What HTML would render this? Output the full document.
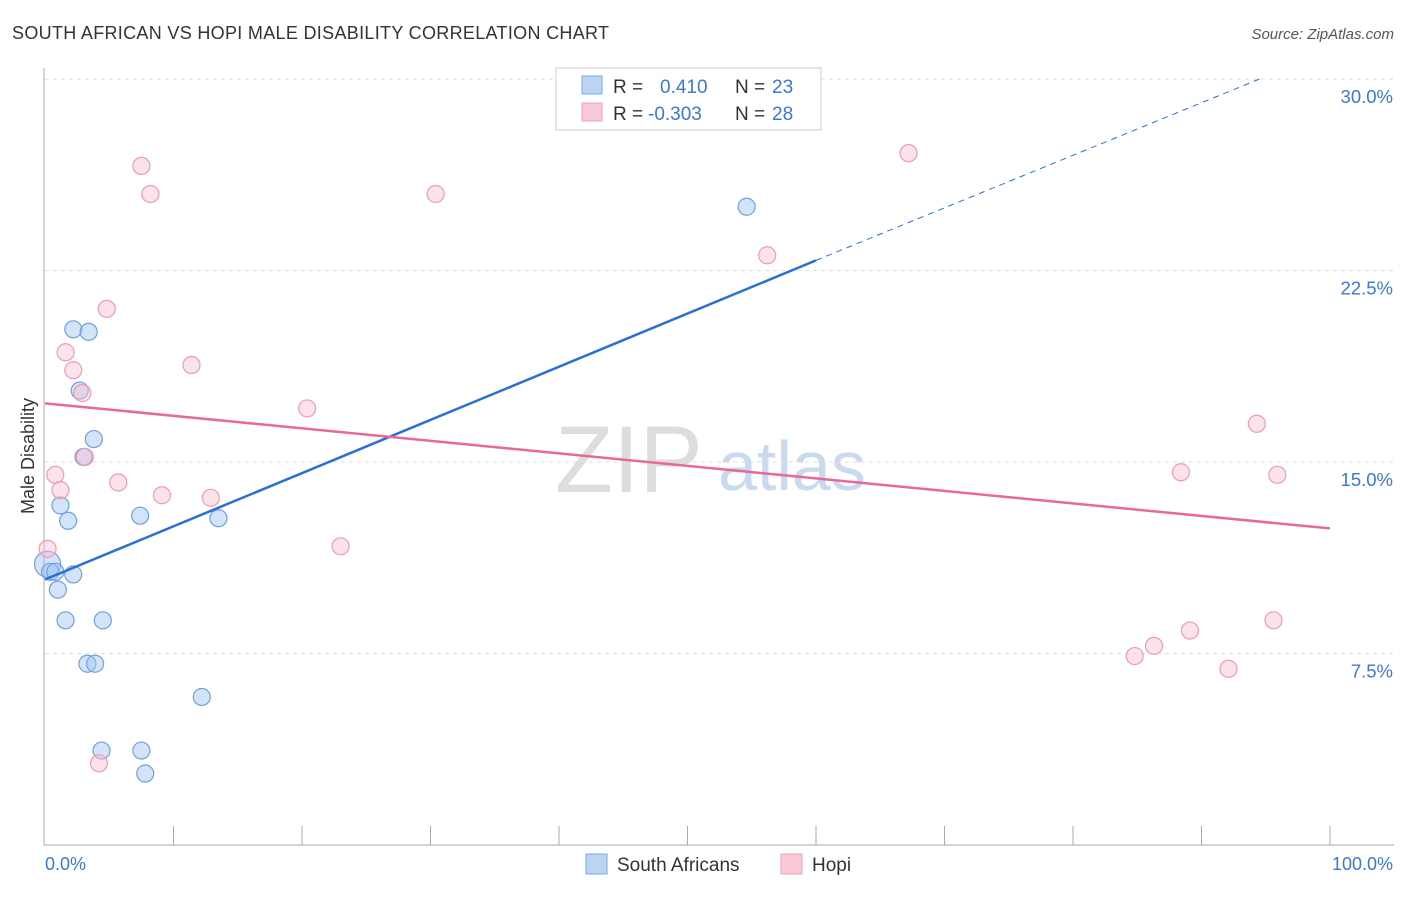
<!DOCTYPE html>
<html><head><meta charset="utf-8"><style>
body{margin:0;background:#fff;font-family:"Liberation Sans",sans-serif;}
svg text{font-family:"Liberation Sans",sans-serif;}
</style></head><body>
<svg id="chart" width="1406" height="892" xmlns="http://www.w3.org/2000/svg">
<text x="12" y="39" font-size="18" fill="#333" textLength="597">SOUTH AFRICAN VS HOPI MALE DISABILITY CORRELATION CHART</text>
<text x="1394" y="39" font-size="15" font-style="italic" fill="#555" text-anchor="end">Source: ZipAtlas.com</text>
<text x="555" y="492" font-size="95" font-family="Liberation Serif" fill="#ddd">ZIP</text>
<text x="718" y="490" font-size="70" fill="#c9d9ee">atlas</text>
<g id="grid"></g>
<line x1="44" y1="68" x2="44" y2="845" stroke="#aaa"/>
<line x1="44" y1="845" x2="1394" y2="845" stroke="#aaa"/>
<g id="xticks"></g>
<g id="ylabels"></g>
<text x="45" y="870" font-size="18" fill="#3a78d4">0.0%</text>
<text x="1393" y="870" font-size="18" fill="#3a78d4" text-anchor="end">100.0%</text>
<text transform="translate(34,456) rotate(-90)" font-size="18" fill="#333" text-anchor="middle">Male Disability</text>
<g id="points"></g>
<g id="trends"></g>
<g>
<rect x="556" y="68" width="265" height="62" fill="#fff" stroke="#ccc"/>
<rect x="582" y="76" width="20" height="18" fill="#bcd4f4" stroke="#7fa8e0"/>
<rect x="582" y="103" width="20" height="18" fill="#f9c9d6" stroke="#eea0b6"/>
<text x="613" y="93" font-size="19" fill="#333">R = </text><text x="660" y="93" font-size="19" fill="#3a78d4">0.410</text>
<text x="735" y="93" font-size="19" fill="#333">N = </text><text x="772" y="93" font-size="19" fill="#3a78d4">23</text>
<text x="613" y="120" font-size="19" fill="#333">R = </text><text x="648" y="120" font-size="19" fill="#3a78d4">-0.303</text>
<text x="735" y="120" font-size="19" fill="#333">N = </text><text x="772" y="120" font-size="19" fill="#3a78d4">28</text>
</g>
<g><rect x="586" y="854" width="21" height="20" fill="#bcd4f4" stroke="#7fa8e0"/><text x="617" y="871" font-size="19" fill="#333">South Africans</text></g>
<g><rect x="781" y="854" width="21" height="20" fill="#f9c9d6" stroke="#eea0b6"/><text x="812" y="871" font-size="19" fill="#333">Hopi</text></g>
</svg>
<script>
const yTicks=[7.5,15,22.5,30];
const blueX=[0.2,0.4,0.8,2.2,3.4,2.7,3.8,3.0,1.2,1.8,7.4,13.5,2.2,1.0,1.6,4.5,3.3,3.9,12.2,4.4,7.5,7.8,54.6];
const blueY=[11.0,10.7,10.7,20.2,20.1,17.8,15.9,15.2,13.3,12.7,12.9,12.8,10.6,10.0,8.8,8.8,7.1,7.1,5.8,3.7,3.7,2.8,25.0];
const pinkX=[7.5,8.2,30.4,67.2,56.2,4.8,1.6,2.2,2.9,11.4,20.4,3.1,0.8,1.2,5.7,9.1,12.9,23.0,0.2,94.3,88.4,95.9,95.6,89.1,86.3,84.8,92.1,4.2];
const pinkY=[26.6,25.5,25.5,27.1,23.1,21.0,19.3,18.6,17.7,18.8,17.1,15.2,14.5,13.9,14.2,13.7,13.6,11.7,11.6,16.5,14.6,14.5,8.8,8.4,7.8,7.4,6.9,3.2];
const blueTrend=[0,10.4,60,22.9,94.5,30];
const pinkTrend=[0,17.3,100,12.4];
const X=v=>45+v*12.85, Y=v=>845-v*25.53;
const NS="http://www.w3.org/2000/svg";
function mk(tag,attrs,parent){const e=document.createElementNS(NS,tag);for(const k in attrs)e.setAttribute(k,attrs[k]);parent.appendChild(e);return e;}
const grid=document.getElementById('grid'),yl=document.getElementById('ylabels'),xt=document.getElementById('xticks');
yTicks.forEach(t=>{
 const l=mk('line',{x1:45,x2:1394,y1:Y(t),y2:Y(t),stroke:'#ddd','stroke-dasharray':'4,4'},grid);
 
 
 const tx=mk('text',{x:1393,y:Y(t)+24,'font-size':18.5,fill:'#3a78d4','text-anchor':'end'},yl);
 tx.textContent=t.toFixed(1)+'%';
 
 
});
for(let i=1;i<=10;i++){const l=mk('line',{x1:X(i*10),x2:X(i*10),y1:826,y2:845,stroke:'#aaa'},xt);
 
 }
const pts=document.getElementById('points');
blueX.forEach((x,i)=>{const c=mk('circle',{cx:X(x),cy:Y(blueY[i]),r:i==0?13:8.5,fill:'rgba(160,195,240,0.45)',stroke:'#6fa0e0','stroke-width':1.2},pts);
 
 });
pinkX.forEach((x,i)=>{const c=mk('circle',{cx:X(x),cy:Y(pinkY[i]),r:8.5,fill:'rgba(248,190,208,0.45)',stroke:'#ec9cb4','stroke-width':1.2},pts);
 
 });
const tr=document.getElementById('trends');
let l=mk('line',{x1:X(blueTrend[0]),y1:Y(blueTrend[1]),x2:X(blueTrend[2]),y2:Y(blueTrend[3]),stroke:'#2a6fd6','stroke-width':2.5},tr);


l=mk('line',{x1:X(blueTrend[2]),y1:Y(blueTrend[3]),x2:X(blueTrend[4]),y2:Y(blueTrend[5]),stroke:'#2a6fd6','stroke-width':1,'stroke-dasharray':'6,5'},tr);


l=mk('line',{x1:X(pinkTrend[0]),y1:Y(pinkTrend[1]),x2:X(pinkTrend[2]),y2:Y(pinkTrend[3]),stroke:'#e8689a','stroke-width':2.5},tr);


</script>
</body></html>
